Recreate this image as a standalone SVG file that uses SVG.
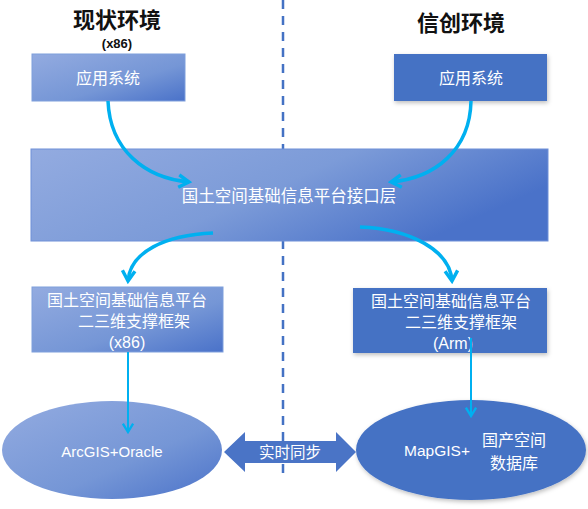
<svg xmlns="http://www.w3.org/2000/svg" width="588" height="509" viewBox="0 0 588 509">
<defs>
<linearGradient id="g" x1="0" y1="0" x2="1" y2="1">
<stop offset="0" stop-color="#93abe0"/>
<stop offset="0.6" stop-color="#7596d6"/>
<stop offset="1" stop-color="#4a72c9"/>
</linearGradient>
<linearGradient id="gw" x1="0" y1="0" x2="1" y2="0.4">
<stop offset="0" stop-color="#93abe0"/>
<stop offset="0.55" stop-color="#7c9bd8"/>
<stop offset="1" stop-color="#4a72c9"/>
</linearGradient>
<filter id="sh" x="-10%" y="-10%" width="130%" height="140%">
<feDropShadow dx="1" dy="2" stdDeviation="2" flood-color="#000" flood-opacity="0.25"/>
</filter>
<marker id="ah" viewBox="0 0 14 14" refX="11" refY="7" markerWidth="16" markerHeight="16" orient="auto" markerUnits="userSpaceOnUse">
<path d="M2,1.5 L11,7 L2,12.5" fill="none" stroke="#00b0f0" stroke-width="3"/>
</marker>
<marker id="ahs" viewBox="0 0 14 14" refX="11" refY="7" markerWidth="13" markerHeight="13" orient="auto" markerUnits="userSpaceOnUse">
<path d="M2,1.5 L11,7 L2,12.5" fill="none" stroke="#00b0f0" stroke-width="2.5"/>
</marker>
</defs>
<style>
.t{font-family:"Liberation Sans","Noto Sans CJK SC",sans-serif;fill:#fff;text-anchor:middle;dominant-baseline:central}
.h{font-family:"Liberation Sans","Noto Sans CJK SC",sans-serif;fill:#111;text-anchor:middle;dominant-baseline:central;font-weight:bold}
.c{fill:none;stroke:#00b0f0;stroke-width:3.5;marker-end:url(#ah)}
.s{fill:none;stroke:#00b0f0;stroke-width:2;marker-end:url(#ahs)}
.solid{fill:#4472c4;filter:url(#sh)}
.grad{fill:url(#g);stroke:#7f9fdc;stroke-width:1}
</style>
<rect width="588" height="509" fill="#fff"/>
<line x1="283" y1="0" x2="283" y2="475" stroke="#4472c4" stroke-width="2.5" stroke-dasharray="9,7"/>

<g id="title-left">
<text class="h" x="117" y="20" font-size="22">现状环境</text>
<text class="h" x="117" y="43" font-size="13">(x86)</text>
</g>
<g id="title-right">
<text class="h" x="461" y="23" font-size="22">信创环境</text>
</g>

<g id="app-left">
<rect class="grad" x="32" y="54" width="153" height="47"/>
<text class="t" x="108" y="78" font-size="16">应用系统</text>
</g>
<g id="app-right">
<rect class="solid" x="394" y="54" width="153" height="47"/>
<text class="t" x="471" y="78" font-size="16">应用系统</text>
</g>

<g id="interface">
<rect x="31" y="149" width="517" height="92" fill="url(#gw)" stroke="#6f90d8" stroke-width="1"/>
<text class="t" x="289" y="196" font-size="16.5">国土空间基础信息平台接口层</text>
</g>

<g id="frame-left">
<rect class="grad" x="32" y="287" width="191" height="65"/>
<text class="t" x="127" y="300" font-size="16">国土空间基础信息平台</text>
<text class="t" x="134" y="321" font-size="16">二三维支撑框架</text>
<text class="t" x="127" y="342" font-size="16">(x86)</text>
</g>
<g id="frame-right">
<rect class="solid" x="353" y="288" width="194" height="65"/>
<text class="t" x="451" y="301" font-size="16">国土空间基础信息平台</text>
<text class="t" x="461" y="322" font-size="16">二三维支撑框架</text>
<text class="t" x="453" y="343" font-size="16">(Arm)</text>
</g>

<g id="db-left">
<ellipse cx="112" cy="450" rx="110" ry="49" fill="url(#g)"/>
<text class="t" x="112" y="451" font-size="15">ArcGIS+Oracle</text>
</g>
<g id="db-right">
<ellipse cx="471" cy="450" rx="115" ry="50" fill="#4472c4" filter="url(#sh)"/>
<text class="t" x="437" y="450" font-size="15.5">MapGIS+</text>
<text class="t" x="514" y="440" font-size="16">国产空间</text>
<text class="t" x="514" y="463" font-size="16">数据库</text>
</g>

<g id="sync">
<polygon points="224,452 245,432 245,441 336,441 336,432 356,452 336,472 336,463 245,463 245,472" fill="#4a74c6"/>
<text class="t" x="290" y="452" font-size="15.5">实时同步</text>
</g>

<g id="connectors">
<path class="c" d="M108,101 C110,150 145,178 189,182"/>
<path class="c" d="M471,101 C470,150 435,178 391,182"/>
<path class="c" d="M213,233 C165,235 130,252 128,281"/>
<path class="c" d="M360,227 C410,229 450,250 452,281"/>
<path class="s" d="M128,352 L128,432"/>
<path class="s" d="M471,338 L471,416"/>
</g>
</svg>
